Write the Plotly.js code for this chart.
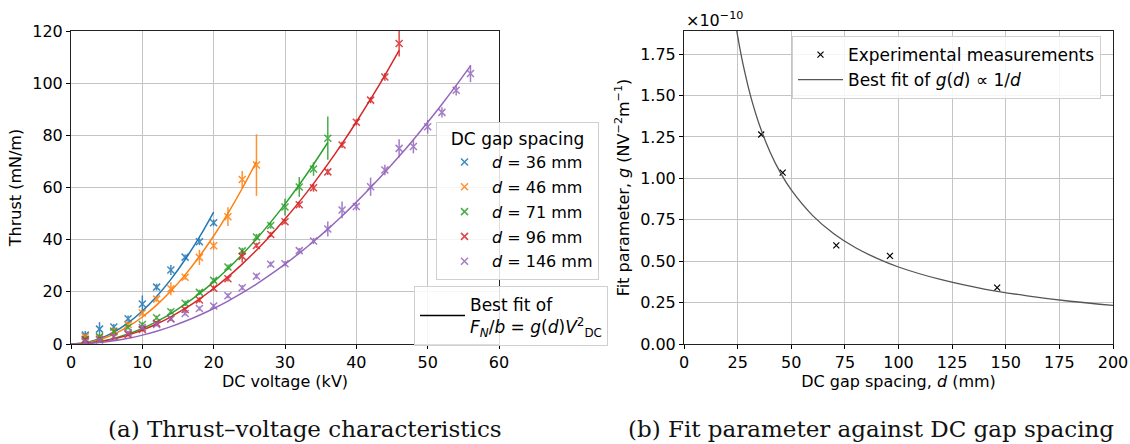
<!DOCTYPE html>
<html>
<head>
<meta charset="utf-8">
<script src="https://cdn.plot.ly/plotly-3.0.1.min.js"></script>
<style>
html,body{margin:0;padding:0;background:#fff}
#chart{width:1130px;height:444px}
</style>
</head>
<body>
<div id="chart"></div>
<script>
// ---------- Panel (a): thrust vs DC voltage ----------
const gapLabels = ["<i>d</i> = 36 mm", "<i>d</i> = 46 mm", "<i>d</i> = 71 mm", "<i>d</i> = 96 mm", "<i>d</i> = 146 mm"];
const seriesColors = ["#1f77b4", "#ff7f0e", "#2ca02c", "#d62728", "#9467bd"];

const v36 = [2,4,6,8,10,12,14,16,18,20];
const t36 = [3.4,5.7,6.5,9.7,15.3,21.8,28.4,33.3,39.2,46.5];
const e36 = [1.6,2.7,1.2,1.2,3.3,1.3,1.9,1.0,1.3,1.2];

const v46 = [2,4,6,8,10,12,14,16,18,20,22,24,26];
const t46 = [2.8,2.6,5.0,7.5,11.9,17.2,21.2,25.6,33.2,37.7,48.8,63.1,68.6];
const e46 = [1.0,1.0,1.0,1.0,1.0,1.0,2.5,1.0,2.9,1.5,3.6,3.2,11.8];

const v71 = [2,4,6,8,10,12,14,16,18,20,22,24,26,28,30,32,34,36];
const t71 = [1.8,2.8,4.7,6.4,7.5,10.1,12.4,15.6,19.8,24.4,29.5,35.7,41.0,45.4,52.5,60.2,67.1,78.9];
const e71 = [0.8,0.8,0.8,0.8,0.8,0.8,1.0,1.0,1.0,1.0,1.0,1.2,1.2,1.2,3.2,3.8,2.6,8.3];

const v96 = [2,4,6,8,10,12,14,16,18,20,22,24,26,28,30,32,34,36,38,40,42,44,46];
const t96 = [1.5,1.8,2.8,3.7,5.6,7.9,9.7,13.2,16.9,21.4,25.0,33.6,37.8,42.0,46.9,53.4,59.9,66.0,76.3,85.0,93.5,102.4,115.2];
const e96 = [0.8,0.8,0.8,0.8,0.8,0.8,0.8,1.0,1.0,1.0,1.0,2.4,1.0,1.0,1.0,1.2,1.5,1.2,1.2,1.2,1.2,1.5,5.0];

const v146 = [2,4,6,8,10,12,14,16,18,20,22,24,26,28,30,32,34,36,38,40,42,44,46,48,50,52,54,56];
const t146 = [0.9,1.5,2.8,4.3,6.3,7.5,9.6,11.7,13.6,14.6,18.5,21.6,26.0,30.6,30.8,35.8,39.5,44.1,51.4,52.7,60.3,66.7,75.0,75.7,83.3,88.8,97.3,103.7];
const e146 = [0.8,0.8,0.8,0.8,0.8,0.8,0.8,0.8,0.8,0.8,1.0,1.0,1.0,1.0,1.0,1.0,1.2,2.9,3.2,1.5,3.5,2.0,3.5,2.6,2.6,2.0,2.0,3.3];

// best-fit curves F/b = g(d) V^2
const fitV = [0,2,4,6,8,10,12,14,16,18,20,22,24,26,28,30,32,34,36,38,40,42,44,46,48,50,52,54,56];
const fit36 = [0,0.51,2.02,4.55,8.10,12.65,18.22,24.79,32.38,40.99,50.6];
const fit46 = [0,0.41,1.66,3.73,6.62,10.35,14.90,20.29,26.50,33.53,41.40,50.09,59.62,69.97];
const fit71 = [0,0.24,0.95,2.15,3.81,5.96,8.58,11.68,15.26,19.31,23.84,28.85,34.33,40.29,46.73,53.64,61.03,68.90,77.24];
const fit96 = [0,0.21,0.85,1.92,3.40,5.32,7.66,10.43,13.62,17.24,21.28,25.75,30.64,35.96,41.71,47.88,54.48,61.50,68.95,76.82,85.12,93.84,103.00,112.57];
const fit146 = [0,0.14,0.54,1.22,2.18,3.40,4.90,6.66,8.70,11.02,13.60,16.46,19.58,22.98,26.66,30.60,34.82,39.30,44.06,49.10,54.40,59.98,65.82,71.94,78.34,85.00,91.94,99.14,106.62];

// ---------- Panel (b): fit parameter vs gap spacing (units of 1e-10) ----------
const gapD = [36,46,71,96,146];
const gFit = [1.265,1.035,0.596,0.532,0.340];
const curveD = [24,25,26,27,28,30,32,35,40,45,50,60,70,80,90,100,120,140,160,180,200];
const curveG = [1.938,1.860,1.788,1.722,1.661,1.550,1.453,1.329,1.163,1.033,0.930,0.775,0.664,0.581,0.517,0.465,0.388,0.332,0.291,0.258,0.233];

const measV = [v36,v46,v71,v96,v146];
const measT = [t36,t46,t71,t96,t146];
const measE = [e36,e46,e71,e96,e146];
const fits = [fit36,fit46,fit71,fit96,fit146];

const traces = [];
fits.forEach((f,i)=>{
  traces.push({x: fitV.slice(0,f.length), y: f, mode:'lines', type:'scatter', xaxis:'x', yaxis:'y',
    line:{color:seriesColors[i], width:1.5, shape:'spline'}, showlegend:false, hoverinfo:'skip'});
});
measV.forEach((v,i)=>{
  traces.push({x: v, y: measT[i], mode:'markers', type:'scatter', xaxis:'x', yaxis:'y', name: gapLabels[i],
    legend:'legend', legendgroup:'g'+i, opacity:0.85,
    marker:{symbol:'x-thin', size:7, color:seriesColors[i], line:{width:1.5, color:seriesColors[i]}},
    error_y:{type:'data', array: measE[i], visible:true, color:seriesColors[i], thickness:1.5, width:0}});
});
traces.push({x:[null], y:[null], mode:'lines', type:'scatter', xaxis:'x', yaxis:'y', legend:'legend2',
  name:'Best fit of<br><i>F<sub>N</sub></i>/<i>b</i> = <i>g</i>(<i>d</i>)<i>V</i><sup>2</sup><sub>DC</sub>',
  line:{color:'#000', width:1.5}});
traces.push({x: gapD, y: gFit, mode:'markers', type:'scatter', xaxis:'x2', yaxis:'y2', legend:'legend3',
  name:'Experimental measurements', marker:{symbol:'x-thin', size:6, color:'#000', line:{width:1.2, color:'#000'}}});
traces.push({x: curveD, y: curveG, mode:'lines', type:'scatter', xaxis:'x2', yaxis:'y2', legend:'legend3',
  name:'Best fit of <i>g</i>(<i>d</i>) ∝ 1/<i>d</i>', line:{color:'#555', width:1.3, shape:'spline'}});

const W = 1130, H = 444;
const px = v => v / W, py = v => 1 - v / H;
const SANS = 'DejaVu Sans, sans-serif';
const font = {family:SANS, size:16, color:'#000'};
const titleFont = {family:SANS, size:16, color:'#000'};
const axisCommon = {showgrid:true, gridcolor:'#c4c4c4', gridwidth:1, showline:true, linecolor:'#222', linewidth:1,
  mirror:true, ticks:'outside', ticklen:4, tickcolor:'#000', zeroline:false, tickfont:{family:SANS, size:16, color:'#000'}};
const legendBox = {bgcolor:'rgba(255,255,255,0.85)', bordercolor:'#d0d0d0', borderwidth:1, itemwidth:45,
  xanchor:'left', yanchor:'top'};

const layout = {
  width: W, height: H, margin:{l:0,r:0,t:0,b:0}, paper_bgcolor:'#fff', plot_bgcolor:'#fff', font: font,
  xaxis: Object.assign({}, axisCommon, {domain:[px(71), px(499)], anchor:'y', range:[0,60], dtick:10,
    title:{text:'DC voltage (kV)', standoff:2, font:titleFont}}),
  yaxis: Object.assign({}, axisCommon, {domain:[py(344), py(31)], anchor:'x', range:[0,120], dtick:20,
    title:{text:'Thrust (mN/m)', standoff:6, font:titleFont}}),
  xaxis2: Object.assign({}, axisCommon, {domain:[px(684), px(1113)], anchor:'y2', range:[0,200], dtick:25,
    title:{text:'DC gap spacing, <i>d</i> (mm)', standoff:2, font:titleFont}}),
  yaxis2: Object.assign({}, axisCommon, {domain:[py(344), py(31)], anchor:'x2', range:[0,1.89], dtick:0.25,
    tickformat:'.2f', title:{text:'Fit parameter, <i>g</i> (NV<sup>−2</sup>m<sup>−1</sup>)', standoff:6, font:titleFont}}),
  legend: Object.assign({}, legendBox, {x:px(436), y:py(122), font:{family:SANS, size:16}, tracegroupgap:1, traceorder:'grouped',
    title:{text:'DC gap spacing', side:'top center', font:{family:SANS, size:17}}}),
  legend2: Object.assign({}, legendBox, {x:px(414), y:py(286), font:{family:SANS, size:17}}),
  legend3: Object.assign({}, legendBox, {x:px(792), y:py(36), font:{family:SANS, size:17}}),
  annotations: [
    {text:'×10<sup>−10</sup>', xref:'paper', yref:'paper', x:px(684), y:py(7), xanchor:'left', yanchor:'top',
      showarrow:false, font:{family:SANS, size:16}},
    {text:'(a) Thrust–voltage characteristics', xref:'paper', yref:'paper', x:px(305), y:py(429), xanchor:'center', yanchor:'middle',
      showarrow:false, font:{family:'DejaVu Serif, serif', size:23, color:'#111'}},
    {text:'(b) Fit parameter against DC gap spacing', xref:'paper', yref:'paper', x:px(871), y:py(429), xanchor:'center', yanchor:'middle',
      showarrow:false, font:{family:'DejaVu Serif, serif', size:23, color:'#111'}}
  ]
};
Plotly.newPlot('chart', traces, layout, {displayModeBar:false, staticPlot:true});
</script>
</body>
</html>
